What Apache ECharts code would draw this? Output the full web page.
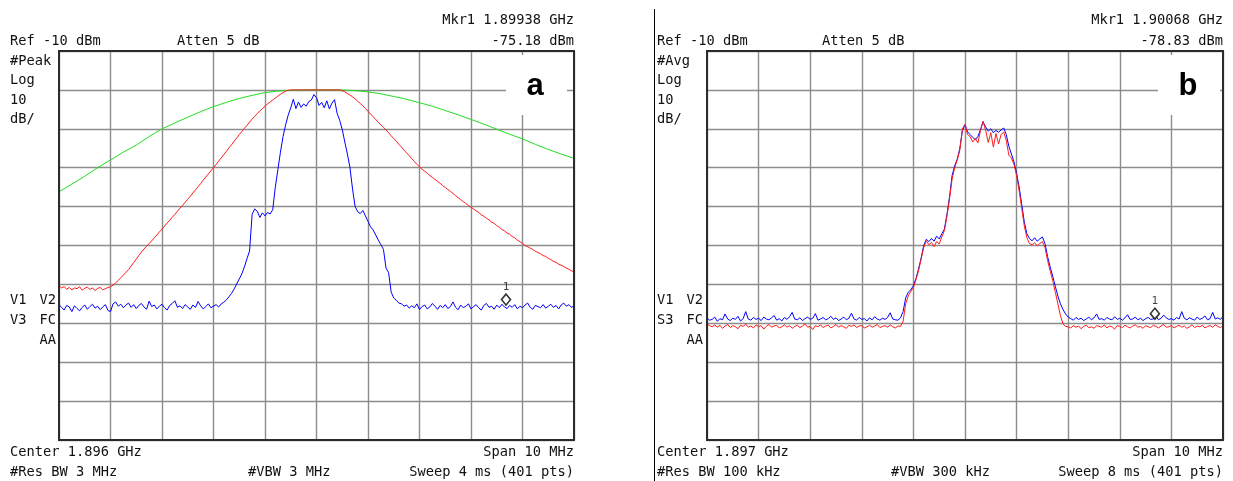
<!DOCTYPE html>
<html><head><meta charset="utf-8">
<script src="https://cdn.jsdelivr.net/npm/echarts@6/dist/echarts.min.js"></script>
<style>html,body{margin:0;padding:0;background:#fff}#c{width:1233px;height:481px}</style>
</head><body><div id="c"></div>
<script>
// ---------- DATA ----------
// Panel a: Center 1.896 GHz, span 10 MHz -> 1891..1901 MHz ; Panel b: 1892..1902 MHz
const aStartMHz = 1891, bStartMHz = 1892, spanMHz = 10;
const sweepStepMHz = 0.05;     // trace samples (read every 0.05 MHz)
const aGreenStepMHz = 0.25;

const aGreenDbm = [
-46.2,-44.2,-42.2,-40.0,-38.0,-36.0,-34.2,-32.0,-30.0,-28.5,
-27.0,-25.6,-24.3,-23.2,-22.2,-21.4,-20.7,-20.3,-20.1,-20.0,
-20.0,-20.0,-20.0,-20.2,-20.5,-21.0,-21.7,-22.4,-23.3,-24.2,
-25.3,-26.4,-27.6,-28.8,-30.1,-31.4,-32.6,-34.0,-35.3,-36.5,
-37.6];

const aRedDbm = [
-70.3,-70.9,-70.6,-71.2,-70.8,-71.4,-70.9,-71.1,-70.6,-71.5,
-71.0,-70.7,-71.3,-70.9,-71.6,-71.0,-70.8,-71.4,-71.1,-70.8,
-70.6,-70.2,-69.6,-69.0,-68.3,-67.6,-66.9,-66.2,-65.3,-64.4,
-63.5,-62.6,-61.7,-60.9,-60.2,-59.5,-58.8,-58.0,-57.3,-56.5,
-55.8,-55.0,-54.2,-53.5,-52.7,-52.0,-51.2,-50.4,-49.7,-48.9,
-48.1,-47.3,-46.5,-45.7,-44.9,-44.1,-43.2,-42.4,-41.6,-40.8,
-40.0,-39.2,-38.3,-37.5,-36.6,-35.8,-34.9,-34.1,-33.2,-32.4,
-31.5,-30.7,-29.9,-29.1,-28.3,-27.5,-26.8,-26.1,-25.4,-24.8,
-24.2,-23.6,-23.1,-22.6,-22.1,-21.6,-21.1,-20.7,-20.3,-20.1,
-20.0,-20.0,-20.0,-20.0,-20.0,-20.0,-20.0,-20.0,-20.0,-20.0,
-20.0,-20.0,-20.0,-20.0,-20.0,-20.0,-20.0,-20.0,-20.0,-20.0,
-20.2,-20.5,-20.9,-21.3,-21.8,-22.3,-22.9,-23.5,-24.1,-24.8,
-25.5,-26.2,-26.9,-27.6,-28.3,-29.0,-29.6,-30.3,-31.0,-31.8,
-32.5,-33.2,-34.0,-34.7,-35.5,-36.2,-36.9,-37.7,-38.4,-39.1,
-39.8,-40.4,-40.9,-41.4,-42.0,-42.5,-43.0,-43.5,-44.0,-44.6,
-45.1,-45.6,-46.1,-46.6,-47.2,-47.7,-48.2,-48.7,-49.2,-49.7,
-50.2,-50.6,-51.1,-51.5,-52.1,-52.5,-53.0,-53.4,-54.0,-54.3,
-54.9,-55.3,-55.9,-56.2,-56.8,-57.1,-57.7,-58.0,-58.6,-59.0,
-59.5,-60.0,-60.3,-60.7,-61.0,-61.5,-61.8,-62.1,-62.6,-62.8,
-63.3,-63.6,-64.1,-64.3,-64.8,-65.1,-65.4,-65.8,-66.1,-66.5,
-66.8];

const aBlueDbm = [
-75.2,-75.9,-76.6,-75.4,-75.8,-77.0,-75.5,-76.2,-76.8,-75.9,
-75.3,-76.4,-75.7,-75.1,-76.1,-75.6,-76.5,-75.8,-75.2,-76.7,
-77.0,-75.0,-74.5,-75.6,-75.1,-76.0,-75.3,-74.8,-75.9,-75.2,
-76.2,-75.4,-74.9,-75.8,-76.4,-74.3,-75.7,-75.3,-76.3,-75.6,
-75.1,-76.0,-76.6,-75.4,-74.9,-74.2,-75.9,-75.5,-76.2,-75.2,
-75.8,-76.4,-75.3,-75.9,-74.4,-75.5,-76.3,-75.7,-75.0,-76.0,
-75.6,-75.2,-75.8,-75.0,-74.6,-74.0,-73.2,-72.3,-71.2,-69.9,
-68.6,-67.3,-65.5,-63.4,-61.4,-52.0,-50.6,-51.2,-52.8,-51.6,
-52.4,-51.5,-51.9,-50.8,-45.0,-40.5,-36.0,-32.0,-29.0,-26.5,
-24.6,-22.4,-24.8,-23.1,-24.5,-23.6,-24.2,-23.0,-22.6,-21.2,
-22.0,-24.0,-23.2,-24.6,-22.8,-24.9,-23.4,-22.5,-26.0,-27.8,
-30.2,-33.4,-36.5,-40.0,-45.5,-50.0,-51.3,-51.8,-51.0,-52.4,
-53.8,-55.2,-56.0,-57.3,-58.6,-59.8,-61.0,-65.8,-67.0,-72.0,
-73.5,-74.1,-74.8,-75.0,-75.6,-75.3,-76.1,-75.5,-76.0,-75.0,
-76.5,-75.7,-75.3,-76.3,-75.8,-74.9,-75.6,-76.4,-75.4,-76.0,
-75.2,-76.2,-75.7,-74.5,-75.9,-76.5,-75.3,-76.0,-75.6,-75.0,
-76.3,-75.7,-75.2,-76.0,-76.6,-75.4,-74.9,-75.9,-75.6,-76.4,
-75.3,-76.0,-75.1,-75.8,-76.2,-75.4,-75.9,-75.2,-76.3,-75.6,
-76.0,-75.3,-74.8,-75.9,-76.4,-75.4,-75.7,-76.0,-75.2,-76.1,
-75.6,-75.1,-75.9,-75.4,-76.3,-75.3,-74.8,-75.6,-75.2,-75.9,
-75.5];

const bBlueDbm = [
-78.6,-79.2,-79.0,-78.4,-79.5,-78.8,-79.1,-77.6,-78.9,-79.3,
-78.7,-79.0,-78.2,-79.4,-78.8,-77.0,-78.9,-79.2,-78.5,-79.0,
-78.7,-79.3,-78.4,-78.9,-79.1,-78.6,-78.0,-79.2,-78.8,-79.4,
-78.5,-79.0,-78.3,-77.2,-78.9,-79.1,-78.6,-79.3,-78.8,-78.4,
-79.0,-78.7,-77.5,-79.2,-78.9,-78.5,-79.1,-78.8,-78.2,-79.0,
-78.6,-79.3,-78.9,-78.4,-79.1,-78.7,-77.4,-78.9,-79.2,-78.5,
-79.0,-78.8,-79.4,-78.6,-79.1,-78.3,-78.9,-79.2,-78.7,-79.0,
-78.5,-77.3,-78.9,-79.1,
-79.2,-78.6,-77.0,-73.5,-72.0,-71.4,
-70.3,-68.5,-66.0,-63.2,-60.0,-58.4,-59.0,-58.2,-58.9,-57.6,
-58.3,-57.0,-55.8,-52.0,-47.5,-42.0,-39.5,-37.8,-35.0,-30.5,
-29.0,-30.8,-31.5,-32.2,-32.8,-32.0,-30.2,-28.2,-29.5,-30.6,
-30.0,-31.0,-30.4,-30.9,-30.3,-29.8,-31.5,-34.5,-36.5,-38.5,
-41.5,-45.0,-49.5,-54.0,-57.0,-58.2,-58.8,-58.0,-58.9,-58.3,
-57.8,-59.5,-62.8,-65.5,-67.9,-70.5,-73.0,-75.0,-76.5,-77.6,
-78.4,
-78.8,-79.2,-78.5,-79.0,-78.7,-79.3,-78.9,-78.4,-79.1,-78.6,
-77.6,-79.0,-78.8,-79.2,-78.5,-78.9,-79.1,-78.3,-79.0,-78.7,
-79.2,-78.6,-77.8,-79.0,-78.9,-78.4,-79.1,-78.7,-79.3,-78.8,
-78.5,-79.0,-78.9,-78.2,-79.1,-78.7,-77.9,-78.6,-79.0,-78.8,
-79.2,-78.5,-78.9,-77.0,-78.7,-79.1,-78.6,-78.9,-79.2,-78.4,
-79.0,-78.7,-78.1,-79.1,-78.8,-77.2,-78.9,-78.6,-79.0,-78.2];

const bRedDbm = [
-80.2,-80.6,-80.9,-80.4,-81.0,-80.5,-81.3,-80.7,-80.3,-81.1,
-80.6,-80.9,-81.4,-80.5,-80.8,-80.2,-81.0,-80.7,-81.2,-80.4,
-80.9,-80.6,-81.5,-80.8,-80.3,-81.0,-80.7,-80.5,-81.2,-80.9,
-80.4,-81.0,-80.6,-81.3,-80.8,-80.5,-81.1,-80.7,-80.2,-81.0,
-80.8,-81.6,-80.6,-80.9,-80.4,-81.1,-80.7,-80.5,-81.2,-80.8,
-80.3,-81.0,-80.6,-80.9,-81.3,-80.5,-80.8,-80.4,-81.1,-80.7,
-80.6,-81.2,-80.9,-80.5,-81.0,-80.7,-80.3,-81.1,-80.8,-80.6,
-81.0,-80.4,-80.9,-81.2,-80.7,
-80.8,-79.5,-75.0,-73.0,-71.8,
-70.8,-68.8,-66.5,-63.5,-60.5,-58.8,-59.8,-59.2,-60.3,-59.0,
-59.6,-57.8,-56.2,-52.5,-48.0,-43.0,-40.0,-38.0,-35.5,-30.0,
-28.8,-31.5,-32.0,-33.4,-32.5,-33.6,-30.5,-28.0,-30.4,-33.5,
-31.0,-34.7,-31.2,-33.9,-31.5,-30.8,-33.0,-36.8,-37.5,-39.2,
-42.0,-46.0,-50.5,-55.0,-58.0,-59.5,-59.8,-59.3,-60.1,-59.5,
-59.0,-60.5,-63.8,-66.5,-69.0,-72.0,-75.0,-78.0,-80.2,-80.8,
-80.9,-81.2,-80.6,-81.0,-80.7,-81.4,-80.8,-80.5,-81.1,-80.9,
-81.3,-80.6,-80.8,-81.0,-80.4,-81.2,-80.7,-80.9,-81.5,-80.6,
-80.8,-81.1,-80.5,-80.9,-81.2,-80.7,-80.4,-81.0,-80.8,-81.3,
-80.6,-80.9,-81.1,-80.5,-80.8,-81.2,-80.7,-80.3,-81.0,-80.9,
-80.6,-81.2,-80.8,-80.5,-81.0,-80.7,-81.3,-80.9,-80.4,-81.1,
-80.7,-80.9,-80.5,-81.2,-80.8,-80.6,-81.0,-80.4,-80.8,-81.1,
-80.6];

// marker 1 positions [MHz, dBm]
const aMarker = [1899.68, -75.18];
const bMarker = [1900.68, -78.83];

// y-axis: Ref -10 dBm, 10 dB/div
const refDbm = -10, bottomDbm = -110, dbPerDiv = 10;

// annotation texts
const aTexts = {
  mkr: 'Mkr1 1.89938 GHz', ref: 'Ref -10 dBm', atten: 'Atten 5 dB', mkrVal: '-75.18 dBm',
  side: ['#Peak', 'Log', '10', 'dB/'], s1: ['V1', 'V2'], s2: ['V3', 'FC'], s3: 'AA',
  center: 'Center 1.896 GHz', span: 'Span 10 MHz', rbw: '#Res BW 3 MHz', vbw: '#VBW 3 MHz', sweep: 'Sweep 4 ms (401 pts)', tag: 'a'
};
const bTexts = {
  mkr: 'Mkr1 1.90068 GHz', ref: 'Ref -10 dBm', atten: 'Atten 5 dB', mkrVal: '-78.83 dBm',
  side: ['#Avg', 'Log', '10', 'dB/'], s1: ['V1', 'V2'], s2: ['S3', 'FC'], s3: 'AA',
  center: 'Center 1.897 GHz', span: 'Span 10 MHz', rbw: '#Res BW 100 kHz', vbw: '#VBW 300 kHz', sweep: 'Sweep 8 ms (401 pts)', tag: 'b'
};

// ---------- CHART ----------
const MONO = '"DejaVu Sans Mono", "Liberation Mono", monospace';
const FONT = '13.7px ' + MONO;
const toPairs = (start, step, arr) => arr.map((v, i) => [start + i * step, v]);

const P = [
  { left: 59, top: 51, width: 515, height: 389, txtL: 10, attenX: 177, vbwX: 248, sideR: 56, tagBox: [506, 55, 61, 60], tagC: [535, 86] },
  { left: 707, top: 51, width: 516, height: 389, txtL: 657, attenX: 822, vbwX: 891, sideR: 703, tagBox: [1158, 55, 62, 60], tagC: [1188, 86] }
];

function T(x, y, s, align, font, fill) {
  return { type: 'text', x: x, y: y, silent: true, z: 60,
    style: { text: s, fill: fill || '#111', font: font || FONT, align: align || 'left', verticalAlign: 'middle' } };
}

const graphics = [];
[aTexts, bTexts].forEach((t, k) => {
  const p = P[k], R = p.left + p.width;
  graphics.push(
    { type: 'rect', silent: true, z: 40, shape: { x: p.left, y: p.top, width: p.width, height: p.height },
      style: { fill: 'none', stroke: '#2b2b2b', lineWidth: 2 } },
    { type: 'rect', silent: true, z: 45, shape: { x: p.tagBox[0], y: p.tagBox[1], width: p.tagBox[2], height: p.tagBox[3] },
      style: { fill: '#ffffff' } },
    T(p.tagC[0], p.tagC[1], t.tag, 'center', 'bold 31px "Liberation Sans", Arial, sans-serif', '#000'),
    T(R, 20, t.mkr, 'right'),
    T(p.txtL, 41, t.ref), T(p.attenX, 41, t.atten), T(R, 41, t.mkrVal, 'right'),
    T(p.txtL, 61, t.side[0]), T(p.txtL, 80, t.side[1]), T(p.txtL, 100, t.side[2]), T(p.txtL, 119, t.side[3]),
    T(p.txtL, 300, t.s1[0]), T(p.sideR, 300, t.s1[1], 'right'),
    T(p.txtL, 320, t.s2[0]), T(p.sideR, 320, t.s2[1], 'right'),
    T(p.sideR, 340, t.s3, 'right'),
    T(p.txtL, 452, t.center), T(R, 452, t.span, 'right'),
    T(p.txtL, 472, t.rbw), T(p.vbwX, 472, t.vbw), T(R, 472, t.sweep, 'right')
  );
});
graphics.push({ type: 'line', silent: true, z: 40, shape: { x1: 654.5, y1: 9, x2: 654.5, y2: 481 }, style: { stroke: '#000', lineWidth: 1 } });

const axisCommon = {
  axisLine: { show: false }, axisTick: { show: false }, axisLabel: { show: false },
  splitLine: { show: true, lineStyle: { color: '#8c8c8c', width: 1.4 } }
};
const xAxes = [aStartMHz, bStartMHz].map((s, i) => Object.assign({ type: 'value', gridIndex: i, min: s, max: s + spanMHz, interval: 1 }, axisCommon));
const yAxes = [0, 1].map(i => Object.assign({ type: 'value', gridIndex: i, min: bottomDbm, max: refDbm, interval: dbPerDiv }, axisCommon));

function trace(gi, color, data, z) {
  return { type: 'line', xAxisIndex: gi, yAxisIndex: gi, data: data, showSymbol: false, symbol: 'none',
    lineStyle: { color: color, width: 1 }, z: z || 2, silent: true, animation: false };
}
function marker(gi, pt) {
  return { type: 'scatter', xAxisIndex: gi, yAxisIndex: gi, data: [pt], symbol: 'diamond', symbolSize: [9, 11],
    symbolOffset: [0, -5], z: 10, silent: true,
    itemStyle: { color: '#ffffff', borderColor: '#000', borderWidth: 1.6 },
    label: { show: true, formatter: '1', position: 'top', distance: 1, color: '#111', fontSize: 11, fontFamily: MONO } };
}

const GREEN = '#22dd22', RED = '#ff1a1a', BLUE = '#0000ff';
const option = {
  animation: false,
  backgroundColor: '#ffffff',
  grid: P.map(p => ({ left: p.left, top: p.top, width: p.width, height: p.height, show: false })),
  xAxis: xAxes,
  yAxis: yAxes,
  series: [
    trace(0, GREEN, toPairs(aStartMHz, aGreenStepMHz, aGreenDbm), 2),
    trace(0, RED, toPairs(aStartMHz, sweepStepMHz, aRedDbm), 3),
    trace(0, BLUE, toPairs(aStartMHz, sweepStepMHz, aBlueDbm), 4),
    marker(0, aMarker),
    trace(1, BLUE, toPairs(bStartMHz, sweepStepMHz, bBlueDbm), 3),
    trace(1, RED, toPairs(bStartMHz, sweepStepMHz, bRedDbm), 4),
    marker(1, bMarker)
  ],
  graphic: graphics
};
const chart = echarts.init(document.getElementById('c'), null, { renderer: 'canvas' });
chart.setOption(option);
</script></body></html>
